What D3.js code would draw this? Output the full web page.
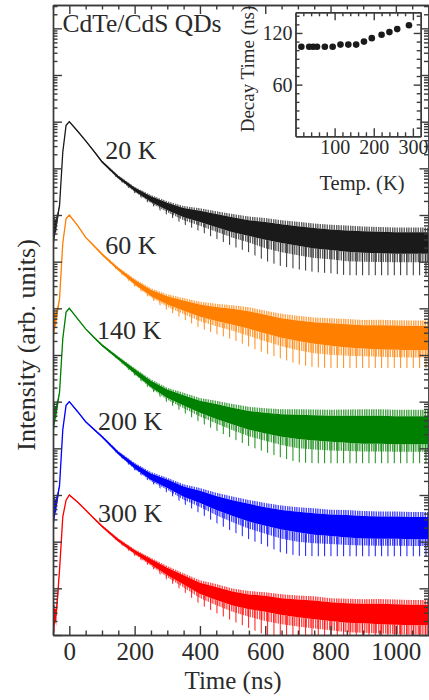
<!DOCTYPE html>
<html>
<head>
<meta charset="utf-8">
<script src="https://cdn.jsdelivr.net/npm/d3@7"></script>
<style>
  body { margin: 0; background: #fff; }
  svg text { font-family: "Liberation Serif", "Times New Roman", serif; font-weight: normal; fill: #2a2a2a; }
  .axis path, .axis line { stroke: #3a3a3a; stroke-width: 1.4; }
</style>
</head>
<body>
<div id="chart"></div>
<script>
// time grid (ns) shared by every trace
const TIME = [-50, -40, -30, -20, -10, 0, 25, 50, 75, 100, 150, 200, 250, 300, 350, 400,
  450, 500, 550, 600, 650, 700, 750, 800, 850, 900, 950, 1000, 1050, 1100];

// trace centre, log10 of intensity (arb. units, traces offset by x100)
const LOG_20K = [8.6, 8.8, 9.2, 10.35, 10.92, 11.0, 10.8, 10.59, 10.37, 10.14, 9.81, 9.55, 9.34, 9.18, 9.05, 8.97,
  8.88, 8.79, 8.72, 8.66, 8.6, 8.55, 8.5, 8.47, 8.44, 8.42, 8.41, 8.4, 8.4, 8.4];
const LOG_60K = [6.6, 6.8, 7.2, 8.4, 8.92, 9.0, 8.78, 8.52, 8.34, 8.16, 7.84, 7.56, 7.33, 7.17, 7.06, 6.95,
  6.88, 6.82, 6.75, 6.66, 6.58, 6.52, 6.47, 6.44, 6.41, 6.39, 6.38, 6.37, 6.36, 6.36];
const LOG_140K = [4.6, 4.8, 5.2, 6.35, 6.92, 7.0, 6.78, 6.56, 6.38, 6.21, 5.93, 5.65, 5.38, 5.17, 5.03, 4.89,
  4.79, 4.69, 4.6, 4.54, 4.49, 4.46, 4.44, 4.42, 4.41, 4.4, 4.4, 4.39, 4.39, 4.39];
const LOG_200K = [2.6, 2.8, 3.2, 4.4, 4.92, 5.0, 4.79, 4.57, 4.41, 4.25, 3.9, 3.62, 3.39, 3.24, 3.07, 2.96,
  2.83, 2.72, 2.62, 2.54, 2.47, 2.42, 2.38, 2.35, 2.33, 2.31, 2.3, 2.3, 2.29, 2.29];
const LOG_300K = [0.3, 0.45, 1.39, 2.53, 2.89, 3.0, 2.85, 2.68, 2.5, 2.33, 2.03, 1.78, 1.57, 1.36, 1.18, 1.0,
  0.89, 0.78, 0.71, 0.67, 0.61, 0.57, 0.54, 0.5, 0.47, 0.46, 0.45, 0.44, 0.43, 0.43];

// half width of the dense noise band (decades)
const SPREAD_20K = [0.25, 0.12, 0.01, 0.01, 0.01, 0.01, 0.01, 0.01, 0.015, 0.02, 0.03, 0.04, 0.06, 0.08, 0.1, 0.12,
  0.14, 0.16, 0.17, 0.19, 0.2, 0.21, 0.22, 0.22, 0.23, 0.23, 0.23, 0.23, 0.23, 0.23];
const SPREAD_60K = [0.25, 0.12, 0.01, 0.01, 0.01, 0.01, 0.01, 0.01, 0.015, 0.02, 0.03, 0.05, 0.07, 0.09, 0.11, 0.13,
  0.15, 0.17, 0.19, 0.2, 0.21, 0.22, 0.23, 0.24, 0.25, 0.25, 0.26, 0.26, 0.26, 0.26];
const SPREAD_140K = [0.25, 0.12, 0.01, 0.01, 0.01, 0.01, 0.01, 0.01, 0.015, 0.02, 0.03, 0.05, 0.07, 0.09, 0.11, 0.13,
  0.16, 0.18, 0.2, 0.22, 0.24, 0.26, 0.27, 0.28, 0.29, 0.3, 0.3, 0.3, 0.3, 0.3];
const SPREAD_200K = [0.25, 0.12, 0.01, 0.01, 0.01, 0.01, 0.01, 0.01, 0.015, 0.02, 0.03, 0.05, 0.07, 0.09, 0.11, 0.13,
  0.15, 0.17, 0.19, 0.2, 0.21, 0.22, 0.23, 0.23, 0.24, 0.24, 0.24, 0.24, 0.24, 0.24];
const SPREAD_300K = [0.25, 0.12, 0.01, 0.01, 0.01, 0.01, 0.01, 0.01, 0.015, 0.02, 0.03, 0.04, 0.06, 0.08, 0.1, 0.12,
  0.14, 0.15, 0.16, 0.17, 0.18, 0.19, 0.2, 0.2, 0.21, 0.21, 0.22, 0.22, 0.22, 0.22];

// how far the deepest downward spikes reach below the dense band (decades)
const DEPTH_20K = [0.2, 0.1, 0, 0, 0, 0, 0, 0, 0, 0, 0.02, 0.04, 0.06, 0.1, 0.15, 0.2,
  0.25, 0.3, 0.35, 0.45, 0.5, 0.5, 0.5, 0.5, 0.5, 0.5, 0.5, 0.5, 0.5, 0.5];
const DEPTH_60K = [0.2, 0.1, 0, 0, 0, 0, 0, 0, 0, 0, 0.02, 0.04, 0.06, 0.12, 0.18, 0.24,
  0.28, 0.32, 0.38, 0.42, 0.45, 0.5, 0.5, 0.5, 0.5, 0.5, 0.5, 0.5, 0.5, 0.5];
const DEPTH_140K = [0.2, 0.1, 0, 0, 0, 0, 0, 0, 0, 0, 0.02, 0.04, 0.06, 0.1, 0.15, 0.2,
  0.25, 0.3, 0.35, 0.4, 0.45, 0.5, 0.5, 0.5, 0.5, 0.5, 0.5, 0.5, 0.5, 0.5];
const DEPTH_200K = [0.2, 0.1, 0, 0, 0, 0, 0, 0, 0, 0, 0.02, 0.04, 0.06, 0.1, 0.15, 0.22,
  0.28, 0.33, 0.38, 0.42, 0.5, 0.5, 0.5, 0.5, 0.5, 0.5, 0.5, 0.5, 0.5, 0.5];
const DEPTH_300K = [0.3, 0.3, 0, 0, 0, 0, 0, 0, 0, 0, 0.02, 0.04, 0.06, 0.1, 0.15, 0.22,
  0.28, 0.33, 0.4, 0.5, 0.5, 0.5, 0.5, 0.5, 0.5, 0.5, 0.5, 0.5, 0.5, 0.5];

// lowest count level of each trace (log10)
const FLOOR = [7.71, 5.72, 3.68, 1.69, -0.3];

const LABELS = ["20 K", "60 K", "140 K", "200 K", "300 K"];
const LABEL_T = [110, 110, 85, 88, 88];
const LABEL_LOG = [10.2, 8.17, 6.35, 4.39, 2.43];
const COLORS = ["#1a1a1a", "#ff7f00", "#008000", "#0000ff", "#ff0000"];

// inset: decay time vs temperature
const INSET_TEMP = [15, 35, 45, 55, 75, 95, 115, 135, 155, 175, 195, 220, 240, 260, 290];
const INSET_TAU = [104, 104, 104, 104, 104, 104, 106.5, 106.5, 106.5, 110, 114, 118, 121, 124.5, 129];

const X_MAJOR = [0, 200, 400, 600, 800, 1000];

const SERIF = "'Liberation Serif', 'Times New Roman', serif";

let W = 429, H = 700;
let pL = 53, pR = 428.5, pT = 5, pB = 635;

let svg = d3.select("#chart")
    .append("svg")
    .attr("width", W)
    .attr("height", H)
    .attr("font-family", SERIF);

let x = d3.scaleLinear().domain([-50, 1100]).range([pL, pR]);
let y = d3.scaleLog().domain([1, Math.pow(10, 13.5)]).range([pB, pT]);
let yl = v => y(Math.pow(10, v));

let defs = svg.append("defs");
defs.append("clipPath")
    .attr("id", "plotclip")
    .append("rect")
    .attr("x", pL).attr("y", pT)
    .attr("width", pR - pL).attr("height", pB - pT);

// vertical hatching that stands in for the noise spikes: a dense one near the
// trace and a sparse one for the long dips
let hatch = {
    dense: {w: 7, xs: [0.3, 2.4, 4.7], lw: 1},
    sparse: {w: 19, xs: [1.2, 7.5, 13.8], lw: 0.9}
};
COLORS.forEach((c, i) => {
    Object.keys(hatch).forEach(k => {
        let h = hatch[k];
        let p = defs.append("pattern")
            .attr("id", k + i)
            .attr("patternUnits", "userSpaceOnUse")
            .attr("width", h.w).attr("height", 20);
        h.xs.forEach(px => {
            p.append("rect")
                .attr("x", px).attr("y", 0)
                .attr("width", h.lw).attr("height", 20)
                .attr("fill", c);
        });
    });
});

let traces = [
    {mid: LOG_20K, spread: SPREAD_20K, depth: DEPTH_20K},
    {mid: LOG_60K, spread: SPREAD_60K, depth: DEPTH_60K},
    {mid: LOG_140K, spread: SPREAD_140K, depth: DEPTH_140K},
    {mid: LOG_200K, spread: SPREAD_200K, depth: DEPTH_200K},
    {mid: LOG_300K, spread: SPREAD_300K, depth: DEPTH_300K}
];

let plot = svg.append("g").attr("clip-path", "url(#plotclip)");

traces.forEach((tr, i) => {
    let pts = TIME.map((t, j) => ({
        t: t,
        mid: tr.mid[j],
        hi: tr.mid[j] + tr.spread[j],
        lo: tr.mid[j] - tr.spread[j],
        dip: Math.max(FLOOR[i], tr.mid[j] - tr.spread[j] - tr.depth[j])
    }));
    let px = d => x(d.t);

    // long, sparse downward spikes
    plot.append("path")
        .datum(pts)
        .attr("d", d3.area().x(px).y0(d => yl(d.dip)).y1(d => yl(d.lo)))
        .attr("fill", "url(#sparse" + i + ")");

    // short, frequent spikes either side of the band
    plot.append("path")
        .datum(pts)
        .attr("d", d3.area().x(px).y0(d => yl(d.lo - (d.lo - d.dip) * 0.4)).y1(d => yl(d.lo)))
        .attr("fill", "url(#dense" + i + ")");
    plot.append("path")
        .datum(pts)
        .attr("d", d3.area().x(px).y0(d => yl(d.hi)).y1(d => yl(d.hi + (d.hi - d.mid) * 0.45)))
        .attr("fill", "url(#dense" + i + ")");

    // dense noise band
    plot.append("path")
        .datum(pts)
        .attr("d", d3.area().x(px).y0(d => yl(d.lo)).y1(d => yl(d.hi)))
        .attr("fill", COLORS[i]);

    plot.append("path")
        .datum(pts)
        .attr("d", d3.line().x(px).y(d => yl(d.mid)))
        .attr("fill", "none")
        .attr("stroke", COLORS[i])
        .attr("stroke-width", 1.3);

    svg.append("text")
        .attr("x", x(LABEL_T[i]))
        .attr("y", yl(LABEL_LOG[i]))
        .attr("font-size", 26)
        .text(LABELS[i]);
});

// main axes, ticks pointing inward on all four sides
let decades = d3.range(0, 14).map(k => Math.pow(10, k));
let minors = [];
d3.range(0, 14).forEach(k => {
    for (let m = 2; m <= 9; m++) {
        let v = m * Math.pow(10, k);
        if (v < Math.pow(10, 13.5)) minors.push(v);
    }
});
let xMinor = d3.range(-50, 1101, 50).filter(v => X_MAJOR.indexOf(v) < 0);

function axis(a, tx, ty) {
    return svg.append("g").attr("class", "axis")
        .attr("transform", "translate(" + tx + "," + ty + ")")
        .call(a)
        .attr("font-family", SERIF);
}

axis(d3.axisBottom(x).tickValues(xMinor).tickSize(-4.5).tickSizeOuter(0).tickFormat(""), 0, pB);
axis(d3.axisBottom(x).tickValues(X_MAJOR).tickSize(-9).tickSizeOuter(0).tickPadding(7).tickFormat(d3.format("d")), 0, pB)
    .selectAll("text").attr("font-size", 25);
axis(d3.axisTop(x).tickValues(xMinor).tickSize(-4.5).tickSizeOuter(0).tickFormat(""), 0, pT);
axis(d3.axisTop(x).tickValues(X_MAJOR).tickSize(-9).tickSizeOuter(0).tickFormat(""), 0, pT);
axis(d3.axisLeft(y).tickValues(minors).tickSize(-4.5).tickSizeOuter(0).tickFormat(""), pL, 0);
axis(d3.axisLeft(y).tickValues(decades).tickSize(-9).tickSizeOuter(0).tickFormat(""), pL, 0);
axis(d3.axisRight(y).tickValues(minors).tickSize(-4.5).tickSizeOuter(0).tickFormat(""), pR, 0);
axis(d3.axisRight(y).tickValues(decades).tickSize(-9).tickSizeOuter(0).tickFormat(""), pR, 0);

svg.append("text")
    .attr("x", 233).attr("y", 689)
    .attr("text-anchor", "middle")
    .attr("font-size", 25)
    .text("Time (ns)");

svg.append("text")
    .attr("transform", "translate(35,345) rotate(-90)")
    .attr("text-anchor", "middle")
    .attr("font-size", 26)
    .text("Intensity (arb. units)");

svg.append("text")
    .attr("x", 62.5).attr("y", 32)
    .attr("font-size", 25.5)
    .text("CdTe/CdS QDs");

// inset
let il = 295.5, ir = 420.7, it = 12.3, ib = 136.3;
let ix = d3.scaleLinear().domain([0, 320]).range([il, ir]);
let iy = d3.scaleLinear().domain([0, 144]).range([ib, it]);

svg.append("rect")
    .attr("x", il).attr("y", it)
    .attr("width", ir - il).attr("height", ib - it)
    .attr("fill", "#fff");

let ixMinor = d3.range(20, 320, 20).filter(v => v % 100 !== 0);
let iyMinor = d3.range(10, 144, 10).filter(v => v % 60 !== 0);

axis(d3.axisBottom(ix).tickValues(ixMinor).tickSize(-4).tickSizeOuter(0).tickFormat(""), 0, ib);
axis(d3.axisBottom(ix).tickValues([100, 200, 300]).tickSize(-8).tickSizeOuter(0).tickPadding(3), 0, ib)
    .selectAll("text").attr("font-size", 20);
axis(d3.axisTop(ix).tickValues(ixMinor).tickSize(-4).tickSizeOuter(0).tickFormat(""), 0, it);
axis(d3.axisTop(ix).tickValues([100, 200, 300]).tickSize(-8).tickSizeOuter(0).tickFormat(""), 0, it);
axis(d3.axisLeft(iy).tickValues(iyMinor).tickSize(-4).tickSizeOuter(0).tickFormat(""), il, 0);
axis(d3.axisLeft(iy).tickValues([60, 120]).tickSize(-7).tickSizeOuter(0).tickPadding(3), il, 0)
    .selectAll("text").attr("font-size", 20);
axis(d3.axisRight(iy).tickValues(iyMinor).tickSize(-4).tickSizeOuter(0).tickFormat(""), ir, 0);
axis(d3.axisRight(iy).tickValues([60, 120]).tickSize(-7).tickSizeOuter(0).tickFormat(""), ir, 0);

svg.selectAll(".dot")
    .data(INSET_TEMP)
    .join("circle")
    .attr("class", "dot")
    .attr("cx", d => ix(d))
    .attr("cy", (d, i) => iy(INSET_TAU[i]))
    .attr("r", 3.3)
    .attr("fill", "#1a1a1a");

svg.append("text")
    .attr("x", 362).attr("y", 190)
    .attr("text-anchor", "middle")
    .attr("font-size", 20.5)
    .text("Temp. (K)");

svg.append("text")
    .attr("transform", "translate(254,69) rotate(-90)")
    .attr("text-anchor", "middle")
    .attr("font-size", 19)
    .text("Decay Time (ns)");
</script>
</body>
</html>
